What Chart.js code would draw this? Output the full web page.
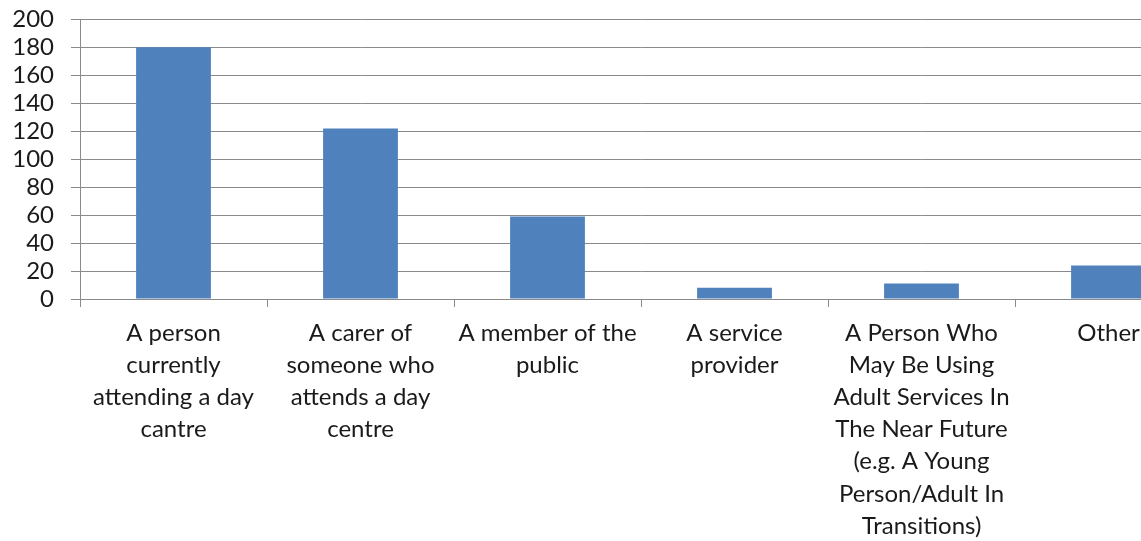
<!DOCTYPE html>
<html>
<head>
<meta charset="utf-8">
<script src="https://cdn.jsdelivr.net/npm/chart.js@4/dist/chart.umd.min.js"></script>
<style>
  html, body { margin: 0; padding: 0; background: #fff; overflow: hidden; }
  #wrap { position: relative; top: -12px; width: 1202px; height: 553px; }
</style>
</head>
<body>
<div id="wrap"><canvas id="c"></canvas></div>
<script>
const categories = [
  ["A person", "currently", "attending a day", "cantre"],
  ["A carer of", "someone who", "attends a day", "centre"],
  ["A member of the", "public"],
  ["A service", "provider"],
  ["A Person Who", "May Be Using", "Adult Services In", "The Near Future", "(e.g. A Young", "Person/Adult In", "Transitions)"],
  ["Other"]
];
const values = [180, 122, 59, 8, 11, 24];
const yTicks = [0, 20, 40, 60, 80, 100, 120, 140, 160, 180, 200];

const gridColor = '#8a8a8a';
const fam = 'Lato, "Open Sans", sans-serif';

new Chart(document.getElementById('c'), {
  type: 'bar',
  data: {
    labels: categories,
    datasets: [{
      data: values,
      backgroundColor: '#4F81BD',
      borderWidth: 0,
      barPercentage: 0.4,
      categoryPercentage: 1.0
    }]
  },
  options: {
    responsive: true,
    maintainAspectRatio: false,
    animation: false,
    layout: { padding: { top: 7, right: 0, left: 0, bottom: 0 } },
    plugins: { legend: { display: false }, tooltip: { enabled: false } },
    scales: {
      x: {
        grid: { display: true, drawOnChartArea: false, drawTicks: true, tickLength: 8, color: gridColor, offset: true },
        border: { display: true, color: gridColor, width: 1 },
        ticks: {
          color: '#1a1a1a', font: { family: fam, size: 24, lineHeight: 1.34 },
          maxRotation: 0, minRotation: 0, autoSkip: false, padding: 10
        },
        afterFit: (s) => { s.height = 242; }
      },
      y: {
        min: 0, max: 200,
        afterBuildTicks: (s) => { s.ticks = yTicks.map(v => ({ value: v })); },
        grid: { color: gridColor, drawTicks: true, tickLength: 9, lineWidth: 1 },
        border: { display: true, color: gridColor, width: 1 },
        ticks: { color: '#1a1a1a', font: { family: fam, size: 24 }, padding: 17, autoSkip: false },
        afterFit: (s) => { s.width = 80; }
      }
    }
  }
});
</script>
</body>
</html>
